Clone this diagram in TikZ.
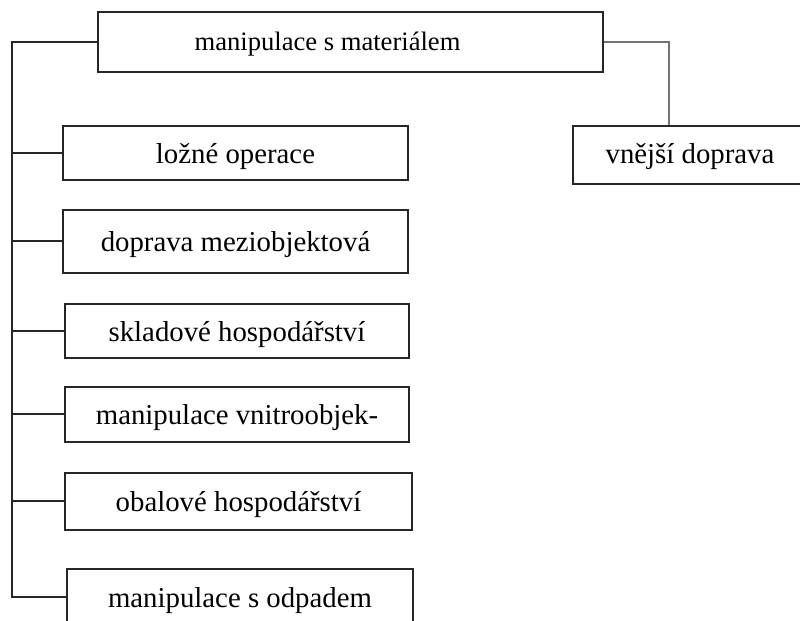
\documentclass[tikz,border=0pt]{standalone}
\usepackage{fontspec}
\setmainfont{Liberation Serif}
\usetikzlibrary{calc}
\tikzset{
  box/.style={draw=black!85, line width=1pt, fill=white, inner sep=0pt,
              font=\fontsize{14.4}{16}\selectfont, text height=12pt, text depth=2pt},
  headbox/.style={box, text height=11pt, text depth=3pt},
  link/.style={draw=black!85, line width=1pt},
  greylink/.style={draw=black!55, line width=1pt}
}
\begin{document}
\begin{tikzpicture}[x=0.5pt, y=-0.5pt]
  \useasboundingbox (0,0) rectangle (800,621);

  % root and external branch
  \node[headbox, minimum width=252.5pt, minimum height=30pt,
        font=\fontsize{13.3}{16}\selectfont] (root) at (350.5,42) {manipulace s materiálem\hspace*{23pt}};
  \node[headbox, minimum width=117pt, minimum height=29pt] (ext) at (690,155) {vnější doprava};

  % internal branches
  \node[box, minimum width=172.5pt, minimum height=27pt]   (b1) at (235.5,153) {ložné operace};
  \node[box, minimum width=172.5pt, minimum height=31.5pt] (b2) at (235.5,241) {doprava meziobjektová};
  \node[box, minimum width=172pt,   minimum height=27pt]   (b3) at (237,331)   {skladové hospodářství};
  \node[box, minimum width=172pt,   minimum height=27.5pt] (b4) at (237,414)   {manipulace vnitroobjek-};
  \node[box, minimum width=173.5pt, minimum height=28.5pt] (b5) at (238.5,501) {obalové hospodářství};
  \node[box, minimum width=173pt,   minimum height=28pt]   (b6) at (240,597)   {manipulace s odpadem};

  % trunk on the left
  \coordinate (trunk) at (12,0);
  \draw[link] (root.west) -- (root.west -| trunk) -- (b6.west -| trunk) -- (b6.west);
  \foreach \b in {b1,b2,b3,b4,b5}
    \draw[link] (\b.west -| trunk) -- (\b.west);

  % link to the external branch
  \coordinate (drop) at ($(ext.north)+(-21,0)$);
  \draw[greylink] (root.east) -| (drop);
\end{tikzpicture}
\end{document}
